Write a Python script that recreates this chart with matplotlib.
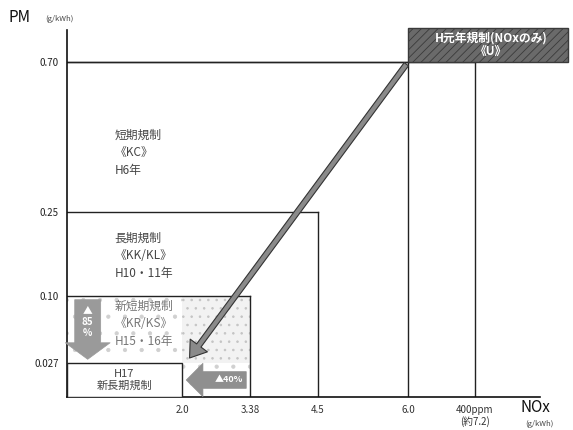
import matplotlib
matplotlib.use("Agg")
import matplotlib.pyplot as plt
import matplotlib.patches as mpatches
import numpy as np

plt.rcParams["font.family"] = ["Noto Sans CJK JP", "DejaVu Sans"]
plt.rcParams["hatch.linewidth"] = 0.6

# ── Datos ─────────────────────────────────────────────────────────────
NOX_LIMITS = [2.0, 3.38, 4.5, 6.0, 7.2]          # g/kWh
NOX_LABELS = ["2.0", "3.38", "4.5", "6.0", "400ppm\n(約7.2)"]
PM_LIMITS = [0.027, 0.10, 0.25, 0.70]             # g/kWh
PM_LABELS = ["0.027", "0.10", "0.25", "0.70"]

# regulación: (NOx, PM) límite de cada caja
REG_NAMES = ["新長期", "新短期", "長期", "短期", "H元年"]
REG_NOX = [2.0, 3.38, 4.5, 6.0, 7.2]
REG_PM = [0.027, 0.10, 0.25, 0.70, 0.70]

# ── Escala no lineal (el original es esquemático) ─────────────────────
XV = [0, 2.0, 3.38, 4.5, 6.0, 7.2, 8.2, 9.0]
XP = [0, 115, 183, 251, 341, 408, 473, 501]
YV = [0, 0.027, 0.10, 0.25, 0.70, 0.80, 0.82]
YP = [0, 34, 101, 185, 335, 367, 371]

fx = (lambda v: np.interp(v, XV, XP), lambda p: np.interp(p, XP, XV))
fy = (lambda v: np.interp(v, YV, YP), lambda p: np.interp(p, YP, YV))

fig = plt.figure(figsize=(5.73, 4.3), dpi=100)
fig.patch.set_facecolor("white")
ax = fig.add_axes([67 / 573, 33 / 430, 473 / 573, 367 / 430])
ax.set_xscale("function", functions=fx)
ax.set_yscale("function", functions=fy)
ax.set_xlim(0, 8.2)
ax.set_ylim(0, 0.80)

for s in ("top", "right"):
    ax.spines[s].set_visible(False)
for s in ("left", "bottom"):
    ax.spines[s].set_color("#111111")
    ax.spines[s].set_linewidth(1.2)

ax.set_xticks(NOX_LIMITS)
ax.set_xticklabels(NOX_LABELS, fontsize=7, color="#333333", linespacing=1.1)
ax.set_yticks(PM_LIMITS)
ax.set_yticklabels(PM_LABELS, fontsize=7, color="#222222")
ax.tick_params(length=0, pad=6)
ax.xaxis.set_minor_locator(matplotlib.ticker.NullLocator())
ax.yaxis.set_minor_locator(matplotlib.ticker.NullLocator())

# ── Cajas de regulación ──────────────────────────────────────────────
LW = 1.0
C_LINE = "#222222"
# 新短期 con punteado gris (más denso a la derecha)
ax.add_patch(mpatches.Rectangle((0, 0), REG_NOX[1], REG_PM[1], facecolor="white",
                                edgecolor="#d0d0d0", hatch=".", lw=0, zorder=1))
ax.add_patch(mpatches.Rectangle((2.0, 0.027), REG_NOX[1] - 2.0, REG_PM[1] - 0.027,
                                facecolor="#f2f2f2", edgecolor="#c4c4c4", hatch="..",
                                lw=0, zorder=1))
for nox, pm in zip(REG_NOX[1:], REG_PM[1:]):
    ax.plot([0, nox], [pm, pm], color=C_LINE, lw=LW, zorder=2)
    ax.plot([nox, nox], [0, pm], color=C_LINE, lw=LW, zorder=2)
# 新長期
ax.add_patch(mpatches.Rectangle((0, 0), REG_NOX[0], REG_PM[0], facecolor="white",
                                edgecolor=C_LINE, lw=LW, zorder=3))

# H元年 caja oscura
ax.add_patch(mpatches.Rectangle((6.0, 0.70), 9.0 - 6.0, 0.81 - 0.70,
                                facecolor="#6a6a6a", edgecolor="#3a3a3a",
                                hatch="////", lw=1.0, zorder=3, clip_on=False))
ax.text(7.45, 0.755, "H元年規制(NOxのみ)\n《U》", ha="center", va="center",
        fontsize=8.5, fontweight="bold", color="white", linespacing=1.05,
        zorder=4, clip_on=False)

# ── Textos ────────────────────────────────────────────────────────────
TXT = dict(ha="left", va="top", fontsize=8.5, linespacing=1.45, zorder=4)
ax.text(0.83, 0.50, "短期規制\n《KC》\nH6年", color="#444444", **TXT)
ax.text(0.83, 0.215, "長期規制\n《KK/KL》\nH10・11年", color="#444444", **TXT)
ax.text(0.83, 0.096, "新短期規制\n《KR/KS》\nH15・16年", color="#777777", **TXT)
ax.text(1.0, 0.0135, "H17\n新長期規制", ha="center", va="center", fontsize=8,
        color="#444444", linespacing=1.15, zorder=4)

# ── Flechas ───────────────────────────────────────────────────────────
ax.annotate("", xy=(2.12, 0.030), xytext=(6.0, 0.70),
            arrowprops=dict(arrowstyle="simple,head_length=1.6,head_width=2.2,tail_width=0.55",
                            mutation_scale=7, facecolor="#8a8a8a", edgecolor="#333333",
                            lw=0.8), zorder=5)
ax.annotate("", xy=(0.36, 0.028), xytext=(0.36, 0.099),
            arrowprops=dict(arrowstyle="simple,head_length=0.7,head_width=1.9,tail_width=1.1",
                            mutation_scale=17, facecolor="#9a9a9a", edgecolor="#9a9a9a",
                            lw=0.5), zorder=5)
ax.text(0.36, 0.072, "▲\n85\n%", ha="center", va="center", fontsize=7,
        fontweight="bold", color="white", linespacing=1.2, zorder=6)
ax.annotate("", xy=(2.03, 0.0135), xytext=(3.36, 0.0135),
            arrowprops=dict(arrowstyle="simple,head_length=1.0,head_width=2.0,tail_width=1.0",
                            mutation_scale=12, facecolor="#8f8f8f", edgecolor="#8f8f8f",
                            lw=0.5), zorder=5)
ax.text(2.95, 0.0135, "▲40%", ha="center", va="center", fontsize=6.5,
        fontweight="bold", color="white", zorder=6)

# ── Títulos de ejes ───────────────────────────────────────────────────
fig.text(8 / 573, 1 - 18 / 430, "PM", fontsize=11, va="center", ha="left", color="#111111")
fig.text(45 / 573, 1 - 19 / 430, "(g/kWh)", fontsize=5.5, va="center", ha="left", color="#444444")
fig.text(520 / 573, 1 - 408 / 430, "NOx", fontsize=11, va="center", ha="left", color="#111111")
fig.text(525 / 573, 1 - 424 / 430, "(g/kWh)", fontsize=5.5, va="center", ha="left", color="#444444")

fig.savefig("out.png", dpi=100, facecolor="white")
